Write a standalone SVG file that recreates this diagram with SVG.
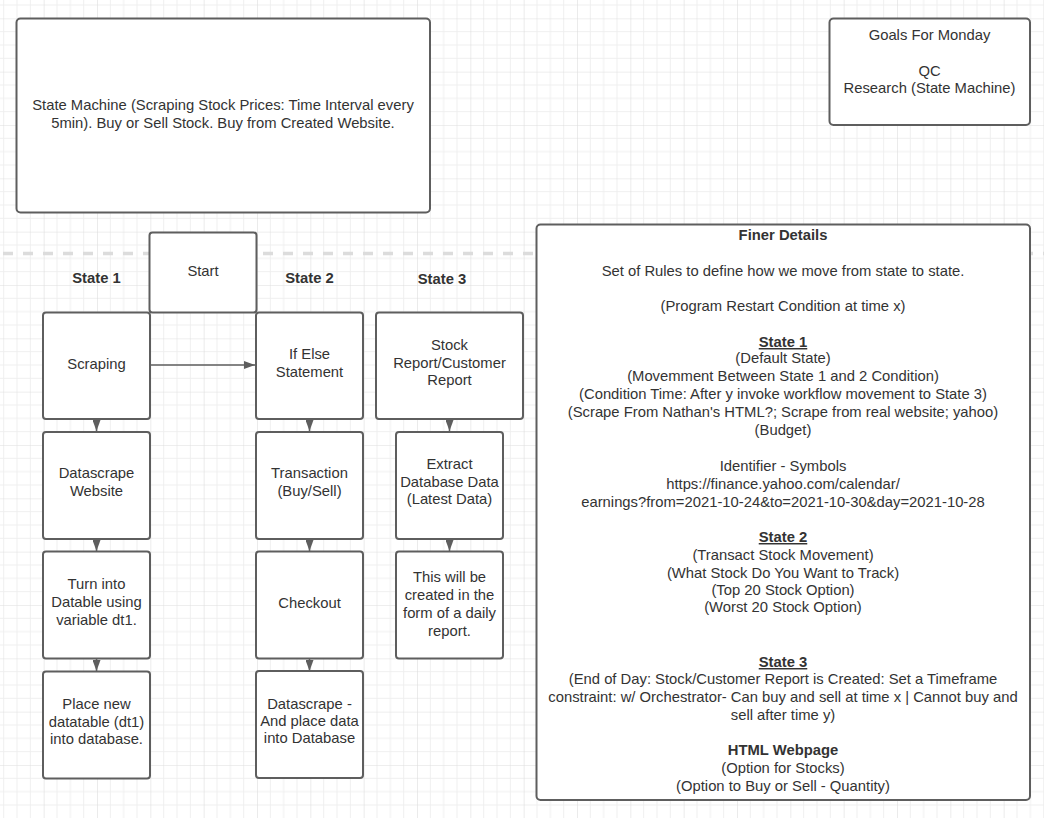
<svg xmlns="http://www.w3.org/2000/svg" width="1044" height="818" viewBox="0 0 1044 818">
<defs>
<pattern id="grid" patternUnits="userSpaceOnUse" x="43.67" y="18.33" width="53.333" height="53.333">
<path d="M13.333 0V53.333M26.667 0V53.333M40 0V53.333M0 13.333H53.333M0 26.667H53.333M0 40H53.333" stroke="#efefef" stroke-width="1" fill="none"/>
<path d="M0 0V53.333M0 0H53.333" stroke="#dedede" stroke-width="1.2" fill="none"/>
</pattern>
<marker id="arr" viewBox="0 0 11 8" refX="11" refY="4" markerWidth="11" markerHeight="8" markerUnits="userSpaceOnUse" orient="auto">
<path d="M0 0L11 4L0 8Z" fill="#5e5e5e"/>
</marker>
<style>
.box{fill:#fff;stroke:#5e5e5e;stroke-width:2}
.t{font-family:"Liberation Sans",Arial,sans-serif;font-size:14.8px;fill:#333;text-anchor:middle}
.b{font-weight:bold}
.u{font-weight:bold;text-decoration:underline}
.con{stroke:#5e5e5e;stroke-width:1.5;fill:none}
</style>
</defs>
<rect width="1044" height="818" fill="#fff"/>
<rect width="1044" height="818" fill="url(#grid)"/>
<line x1="3" y1="253.5" x2="1044" y2="253.5" stroke="#dcdcdc" stroke-width="3.5" stroke-dasharray="10 10"/>

<g id="labels">
<text class="t b" x="96.5" y="283">State 1</text>
<text class="t b" x="309.5" y="283">State 2</text>
<text class="t b" x="442" y="284">State 3</text>
</g>

<g id="connectors">
<line class="con" x1="150" y1="365" x2="255" y2="365" marker-end="url(#arr)"/>
<line class="con" x1="96.5" y1="419" x2="96.5" y2="431" marker-end="url(#arr)"/>
<line class="con" x1="96.5" y1="539" x2="96.5" y2="551" marker-end="url(#arr)"/>
<line class="con" x1="96.5" y1="658" x2="96.5" y2="671" marker-end="url(#arr)"/>
<line class="con" x1="309.5" y1="419" x2="309.5" y2="431" marker-end="url(#arr)"/>
<line class="con" x1="309.5" y1="539" x2="309.5" y2="551" marker-end="url(#arr)"/>
<line class="con" x1="309.5" y1="658" x2="309.5" y2="671" marker-end="url(#arr)"/>
<line class="con" x1="449.5" y1="419" x2="449.5" y2="431" marker-end="url(#arr)"/>
<line class="con" x1="449.5" y1="539" x2="449.5" y2="551" marker-end="url(#arr)"/>
</g>

<g id="intro">
<rect class="box" x="16.5" y="18.5" width="413.5" height="194" rx="4"/>
<text class="t" x="223" y="110">State Machine (Scraping Stock Prices: Time Interval every</text>
<text class="t" x="223" y="128">5min). Buy or Sell Stock. Buy from Created Website.</text>
</g>

<g id="goals">
<rect class="box" x="829.5" y="18.5" width="200.5" height="106.5" rx="4"/>
<text class="t" x="929.5" y="40">Goals For Monday</text>
<text class="t" x="929.5" y="76">QC</text>
<text class="t" x="929.5" y="93">Research (State Machine)</text>
</g>

<g id="start">
<rect class="box" x="149.5" y="232.5" width="107" height="80" rx="3"/>
<text class="t" x="203" y="276">Start</text>
</g>

<g id="scraping">
<rect class="box" x="43" y="312.5" width="107" height="106.5" rx="3"/>
<text class="t" x="96.5" y="369">Scraping</text>
</g>

<g id="datascrape-website">
<rect class="box" x="43" y="432" width="107" height="107" rx="3"/>
<text class="t" x="96.5" y="478">Datascrape</text>
<text class="t" x="96.5" y="496">Website</text>
</g>

<g id="turn-into">
<rect class="box" x="43" y="551.5" width="107" height="107" rx="3"/>
<text class="t" x="96.5" y="589">Turn into</text>
<text class="t" x="96.5" y="607">Datable using</text>
<text class="t" x="96.5" y="625">variable dt1.</text>
</g>

<g id="place-new">
<rect class="box" x="43" y="671.5" width="107" height="107" rx="3"/>
<text class="t" x="96.5" y="709">Place new</text>
<text class="t" x="96.5" y="727">datatable (dt1)</text>
<text class="t" x="96.5" y="744">into database.</text>
</g>

<g id="if-else">
<rect class="box" x="256" y="312.5" width="107" height="106.5" rx="3"/>
<text class="t" x="309.5" y="359">If Else</text>
<text class="t" x="309.5" y="377">Statement</text>
</g>

<g id="transaction">
<rect class="box" x="256" y="432" width="107" height="107" rx="3"/>
<text class="t" x="309.5" y="478">Transaction</text>
<text class="t" x="309.5" y="496">(Buy/Sell)</text>
</g>

<g id="checkout">
<rect class="box" x="256" y="551.5" width="107" height="107" rx="3"/>
<text class="t" x="309.5" y="608">Checkout</text>
</g>

<g id="datascrape-place">
<rect class="box" x="256" y="671" width="107" height="107" rx="3"/>
<text class="t" x="309.5" y="709">Datascrape -</text>
<text class="t" x="309.5" y="726">And place data</text>
<text class="t" x="309.5" y="743">into Database</text>
</g>

<g id="stock-report">
<rect class="box" x="376" y="312.5" width="147" height="106.5" rx="3"/>
<text class="t" x="449.5" y="350">Stock</text>
<text class="t" x="449.5" y="368">Report/Customer</text>
<text class="t" x="449.5" y="385">Report</text>
</g>

<g id="extract">
<rect class="box" x="396" y="432" width="107" height="107" rx="3"/>
<text class="t" x="449.5" y="469">Extract</text>
<text class="t" x="449.5" y="487">Database Data</text>
<text class="t" x="449.5" y="504">(Latest Data)</text>
</g>

<g id="daily-report">
<rect class="box" x="396" y="551.5" width="107" height="107" rx="3"/>
<text class="t" x="449.5" y="582">This will be</text>
<text class="t" x="449.5" y="600">created in the</text>
<text class="t" x="449.5" y="618">form of a daily</text>
<text class="t" x="449.5" y="636">report.</text>
</g>

<g id="finer-details">
<rect class="box" x="536.5" y="224.5" width="493.5" height="575.5" rx="4"/>
<text class="t b" x="783" y="240">Finer Details</text>
<text class="t" x="783" y="276">Set of Rules to define how we move from state to state.</text>
<text class="t" x="783" y="311">(Program Restart Condition at time x)</text>
<text class="t u" x="783" y="347">State 1</text>
<text class="t" x="783" y="363">(Default State)</text>
<text class="t" x="783" y="381">(Movemment Between State 1 and 2 Condition)</text>
<text class="t" x="783" y="399">(Condition Time: After y invoke workflow movement to State 3)</text>
<text class="t" x="783" y="417">(Scrape From Nathan's HTML?; Scrape from real website; yahoo)</text>
<text class="t" x="783" y="435">(Budget)</text>
<text class="t" x="783" y="471">Identifier - Symbols</text>
<text class="t" x="783" y="489">https://finance.yahoo.com/calendar/</text>
<text class="t" x="783" y="507">earnings?from=2021-10-24&amp;to=2021-10-30&amp;day=2021-10-28</text>
<text class="t u" x="783" y="542">State 2</text>
<text class="t" x="783" y="560">(Transact Stock Movement)</text>
<text class="t" x="783" y="578">(What Stock Do You Want to Track)</text>
<text class="t" x="783" y="595">(Top 20 Stock Option)</text>
<text class="t" x="783" y="612">(Worst 20 Stock Option)</text>
<text class="t u" x="783" y="667">State 3</text>
<text class="t" x="783" y="684">(End of Day: Stock/Customer Report is Created: Set a Timeframe</text>
<text class="t" x="783" y="702">constraint: w/ Orchestrator- Can buy and sell at time x | Cannot buy and</text>
<text class="t" x="783" y="720">sell after time y)</text>
<text class="t b" x="783" y="755">HTML Webpage</text>
<text class="t" x="783" y="773">(Option for Stocks)</text>
<text class="t" x="783" y="791">(Option to Buy or Sell - Quantity)</text>
</g>
</svg>
